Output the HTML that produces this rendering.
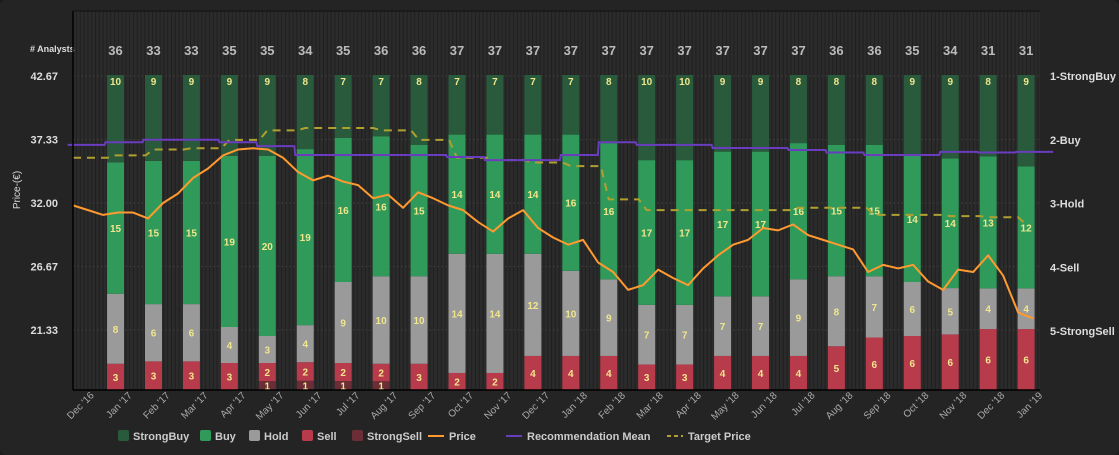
<!DOCTYPE html>
<html><head><meta charset="utf-8"><style>
html,body{margin:0;padding:0;background:#1c1c1c;}
#wrap{position:relative;width:1119px;height:455px;background:#242424;border-radius:6px;overflow:hidden;font-family:"Liberation Sans",sans-serif;}
svg{position:absolute;left:0;top:0;}
</style></head><body>
<div id="wrap">
<svg id="chart" width="1119" height="455">
<defs>
<pattern id="stripes" width="3.8" height="10" patternUnits="userSpaceOnUse">
<rect width="3.8" height="10" fill="#2b2b2b"/><rect width="1" height="10" fill="#1f1f1f"/>
</pattern>
</defs>
</svg>
</div>
<script>
const months=["Dec '16","Jan '17","Feb '17","Mar '17","Apr '17","May '17","Jun '17","Jul '17","Aug '17","Sep '17","Oct '17","Nov '17","Dec '17","Jan '18","Feb '18","Mar '18","Apr '18","May '18","Jun '18","Jul '18","Aug '18","Sep '18","Oct '18","Nov '18","Dec '18","Jan '19"];
const strongBuy=[10,9,9,9,9,8,7,7,8,7,7,7,7,8,10,10,9,9,8,8,8,9,9,8,9];
const buy=[15,15,15,19,20,19,16,16,15,14,14,14,16,16,17,17,17,17,16,15,15,14,14,13,12];
const hold=[8,6,6,4,3,4,9,10,10,14,14,12,10,9,7,7,7,7,9,8,7,6,5,4,4];
const sell=[3,3,3,3,2,2,2,2,3,2,2,4,4,4,3,3,4,4,4,5,6,6,6,6,6];
const strongSell=[0,0,0,0,1,1,1,1,0,0,0,0,0,0,0,0,0,0,0,0,0,0,0,0,0];
const recMean=[2.08,2.04,2.0,2.0,2.04,2.1,2.24,2.24,2.24,2.24,2.27,2.32,2.32,2.24,2.04,2.08,2.08,2.13,2.13,2.16,2.2,2.24,2.24,2.19,2.2,2.19];
const targetPrice=[35.8,36.0,36.5,36.6,37.3,38.1,38.3,38.3,38.1,37.3,35.8,35.6,35.4,35.1,32.3,31.4,31.4,31.4,31.4,31.6,31.6,31.0,31.0,30.9,30.8,30.2];
const price=[31.8,31.4,31.0,31.2,31.2,30.7,32.0,32.8,34.1,34.9,36.0,36.5,36.6,36.5,35.8,34.6,33.9,34.3,33.8,33.5,32.4,32.7,31.6,32.9,32.4,31.8,31.4,30.4,29.6,30.7,31.4,29.9,29.1,28.5,28.9,27.0,26.2,24.7,25.1,26.4,25.7,25.1,26.5,27.6,28.5,28.9,29.9,29.7,30.2,29.3,28.9,28.5,28.1,26.2,26.8,26.5,26.8,25.4,24.7,26.4,26.2,27.6,25.9,22.8,22.3];
const priceTicks=["21.33","26.67","32.00","37.33","42.67"];
const ratingTicks=["1-StrongBuy","2-Buy","3-Hold","4-Sell","5-StrongSell"];

const svg=document.getElementById('chart');
const NS='http://www.w3.org/2000/svg';
function mk(tag,attrs,parent){const e=document.createElementNS(NS,tag);for(const k in attrs)e.setAttribute(k,attrs[k]);(parent||svg).appendChild(e);return e;}
const L=73,R=1040,T=11,B=390,stackTop=75;
const xM=m=>77.6+m*37.94;
const yP=p=>203-(p-32)*11.9;
const yR=r=>76+(r-1)*63.75;

const bg=mk('rect',{x:L,y:T,width:R-L,height:B-T,fill:'url(#stripes)'});



priceTicks.forEach(t=>{
 const y=yP(parseFloat(t));
 const g=mk('line',{x1:L,x2:R,y1:y,y2:y,stroke:'#3a3a3a','stroke-width':1,'stroke-dasharray':'2,2'});
 
 
 const tx=mk('text',{x:58,y:y+4,fill:'#ddd','font-size':11,'font-weight':'bold','text-anchor':'end'});
 tx.textContent=t;
 
 
});
ratingTicks.forEach((t,i)=>{
 const tx=mk('text',{x:1050,y:yR(i+1)+4,fill:'#ddd','font-size':11,'font-weight':'bold'});
 tx.textContent=t;
 
 
});
const yl=mk('text',{x:20,y:190,fill:'#ddd','font-size':10,'text-anchor':'middle',transform:'rotate(-90 20 190)'});
yl.textContent='Price-(€)';


const an=mk('text',{x:30,y:52,fill:'#ddd','font-size':9,'font-weight':'bold'});
an.textContent='# Analysts';



const cols=['#285a3b','#2f9a5a','#9a9a9a','#b83b4c','#6b2e36'];
const series=[strongSell,sell,hold,buy,strongBuy];
const sCols=[cols[4],cols[3],cols[2],cols[1],cols[0]];
const sNames=['strongsell','sell','hold','buy','strongbuy'];
for(let i=0;i<strongBuy.length;i++){
 const total=strongBuy[i]+buy[i]+hold[i]+sell[i]+strongSell[i];
 const cx=xM(i+1), w=17;
 let acc=0;
 series.forEach((s,k)=>{
  const v=s[i]; if(!v) return;
  const y0=B-(acc/total)*(B-stackTop); acc+=v;
  const y1=B-(acc/total)*(B-stackTop);
  const r=mk('rect',{x:cx-w/2,y:y1,width:w,height:y0-y1,fill:sCols[k]});
  
  
  const lbl=mk('text',{x:cx,y:(k==4?y1+10:(y0+y1)/2+4),fill:'#f0e68c','font-size':10,'font-weight':'bold','text-anchor':'middle'});
  lbl.textContent=v;
  
  
 });
 const c=mk('text',{x:cx,y:55,fill:'#bbb','font-size':13,'font-weight':'bold','text-anchor':'middle'});
 c.textContent=total;
 
 
}

let d='';targetPrice.forEach((v,i)=>{d+=(i?'L':'M')+xM(i)+','+yP(v);if(i<targetPrice.length-1)d+='L'+(xM(i)+30)+','+yP(v);});
const tp=mk('path',{d:'M'+L+','+yP(targetPrice[0])+d.replace(/^M/,'L'),fill:'none',stroke:'#b0a030','stroke-width':2,'stroke-dasharray':'8,6'});


d='M'+L+','+yR(recMean[0]);recMean.forEach((v,i)=>{d+='L'+(xM(i)-10)+','+yR(v)+'L'+(xM(i)+27)+','+yR(v);});
const rm=mk('path',{d:d,fill:'none',stroke:'#6a3cc0','stroke-width':2});


d='';price.forEach((v,i)=>{d+=(i?'L':'M')+xM(-0.12+i*0.3954)+','+yP(v);});
const pl=mk('path',{d:d,fill:'none',stroke:'#ff9a30','stroke-width':2,'stroke-linejoin':'round'});



const ax=mk('line',{x1:L,x2:L,y1:T,y2:B,stroke:'#000','stroke-width':1.5});


const tb=mk('line',{x1:L,x2:R,y1:T,y2:T,stroke:'#111','stroke-width':1});


const xa=mk('line',{x1:L,x2:R,y1:B,y2:B,stroke:'#000','stroke-width':1.5});



months.forEach((m,i)=>{
 const x=xM(i)+17,y=396;
 const t=mk('text',{x:x,y:y,fill:'#aaa','font-size':10,'text-anchor':'end',transform:`rotate(-45 ${x} ${y})`});
 t.textContent=m;
 
 
});

const legend=[['StrongBuy',cols[0],'box',118],['Buy',cols[1],'box',200],['Hold',cols[2],'box',249],['Sell',cols[3],'box',302],['StrongSell',cols[4],'box',352],['Price','#ff9a30','line',430],['Recommendation Mean','#6a3cc0','line',508],['Target Price','#b0a030','dash',669]];
legend.forEach(([n,c,t,x])=>{
 const g=mk('g',{});
 
 
 if(t=='box') mk('rect',{x:x,y:430,width:11,height:11,rx:2,fill:c},g);
 else mk('line',{x1:x-2,x2:x+14,y1:436,y2:436,stroke:c,'stroke-width':2,'stroke-dasharray':t=='dash'?'4,3':'none'},g);
 const tx=mk('text',{x:x+(t=='box'?15:19),y:440,fill:'#ccc','font-size':11,'font-weight':'bold'},g);
 tx.textContent=n;
});
</script>
</body></html>
